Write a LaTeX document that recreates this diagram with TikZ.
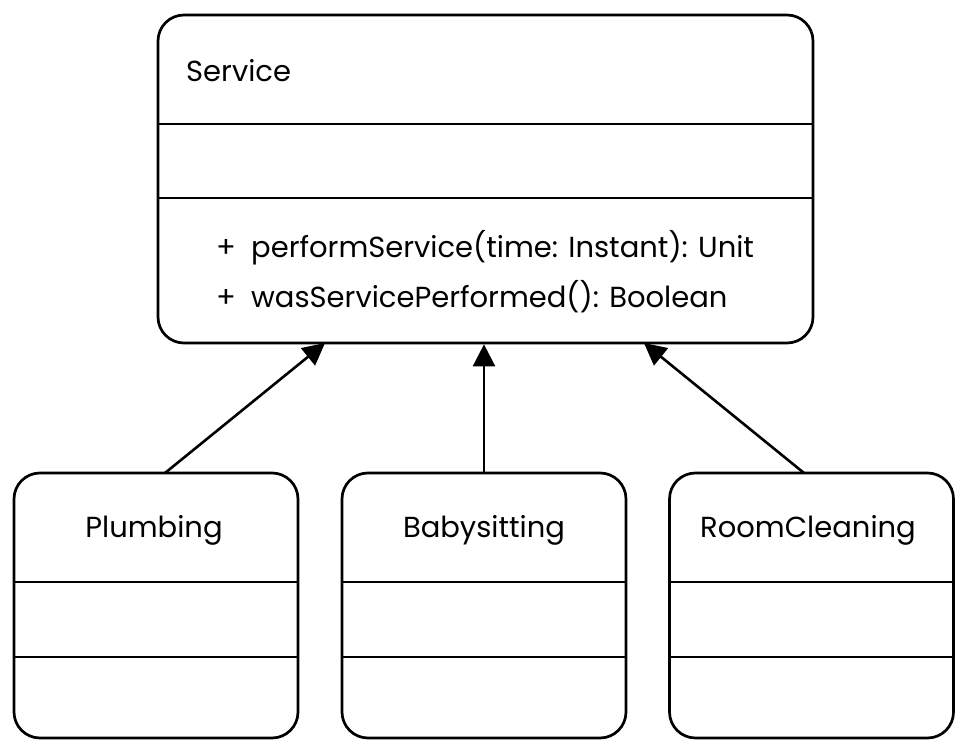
\documentclass[tikz,border=0pt]{standalone}
\usepackage{fontspec}
\setmainfont{Poppins}
\usetikzlibrary{arrows.meta}
\begin{document}
\begin{tikzpicture}[x=1pt,y=-1pt,
  cls/.style={draw, line width=2.7pt, rounded corners=26pt, inner sep=0pt},
  lbl/.style={inner sep=0pt, font=\fontsize{29}{34}\selectfont},
  div/.style={line width=2.7pt},
  inh/.style={line width=2.6pt, -{Triangle[length=22pt,width=22pt]}}]
\useasboundingbox (0,0) rectangle (966,751);
% Service class
\node[cls, minimum width=655pt, minimum height=328pt] (svc) at (485.5,179) {};
\draw[div] (158,124) -- (813,124);
\draw[div] (158,198) -- (813,198);
\node[lbl, anchor=base west] (svcname) at (186,82) {Service};
\node[lbl, anchor=base west] (p1) at (216,258) {+};
\node[lbl, anchor=base west] (m1) at (251,258) {performService(time: Instant): Unit};
\node[lbl, anchor=base west] (p2) at (216,307) {+};
\node[lbl, anchor=base west] (m2) at (251,307) {wasServicePerformed(): Boolean};
% subclasses
\node[cls, minimum width=284pt, minimum height=265pt] (plumb) at (156,605.5) {};
\node[cls, minimum width=284pt, minimum height=265pt] (baby) at (484,605.5) {};
\node[cls, minimum width=284pt, minimum height=265pt] (room) at (811.5,605.5) {};
\foreach \n in {plumb,baby,room}{
  \draw[div] (\n.west |- 0,582) -- (\n.east |- 0,582);
  \draw[div] (\n.west |- 0,657) -- (\n.east |- 0,657);
}
\node[lbl, anchor=base] (plumbname) at (154,537) {Plumbing};
\node[lbl, anchor=base] (babyname) at (484,537) {Babysitting};
\node[lbl, anchor=base] (roomname) at (808,537) {RoomCleaning};
% connectors
\coordinate (s1) at (165,473);
\coordinate (t1) at (325,343);
\coordinate (t3) at (644,343);
\coordinate (s3) at (804,473);
\draw[inh] (s1) -- (t1);
\draw[inh] (baby.north) -- (baby.north |- svc.south);
\draw[inh] (s3) -- (t3);
\end{tikzpicture}
\end{document}
